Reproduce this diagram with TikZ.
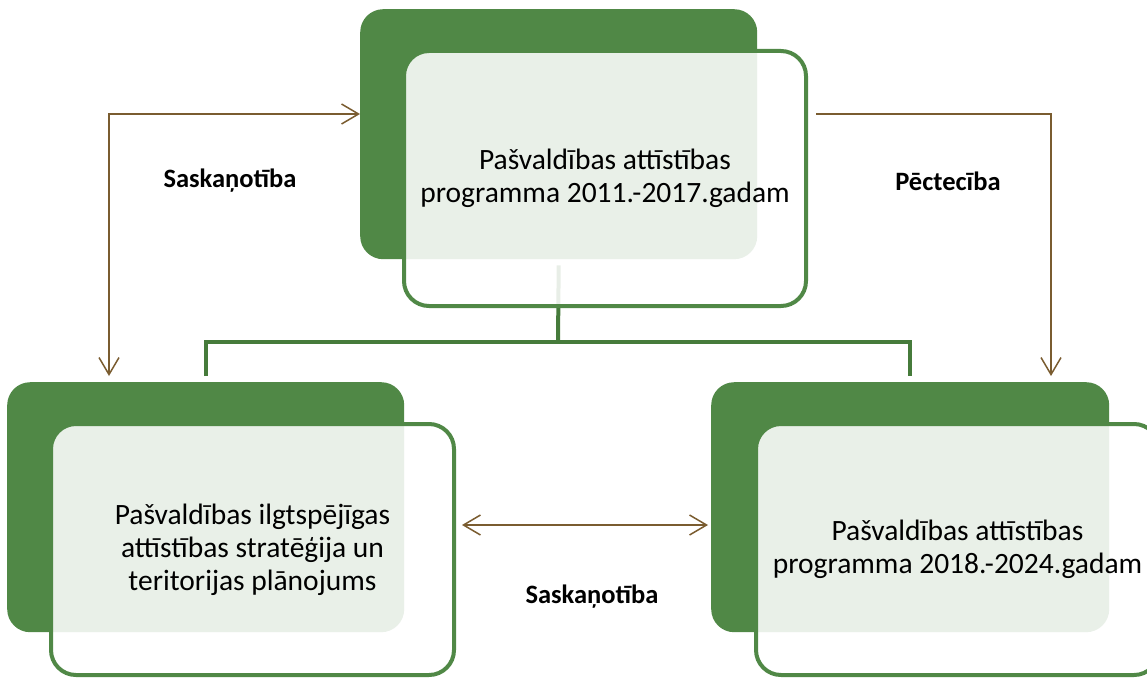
\documentclass[tikz,border=0pt]{standalone}
\usepackage{fontspec}
\setmainfont{Carlito}
\usetikzlibrary{arrows.meta}
\definecolor{dkgreen}{HTML}{508846}
\definecolor{treegreen}{HTML}{467B3B}
\definecolor{brownarr}{HTML}{7A5C30}
\tikzset{
  darkbox/.style={fill=dkgreen, rounded corners=23pt, inner sep=0pt, anchor=north west},
  outbox/.style={draw=dkgreen, line width=4pt, fill=white, fill opacity=0.88, text opacity=1,
    rounded corners=25pt, inner sep=0pt, anchor=north west},
  boxtext/.style={align=center, font=\fontsize{29.5}{33}\selectfont},
  tree/.style={draw=treegreen, line width=4pt},
  brarr/.style={draw=brownarr, line width=1.5pt},
  barb/.tip={Straight Barb[length=17pt,width=20pt,line width=1.5pt]},
  lbl/.style={font=\fontsize{26.5}{30}\selectfont\bfseries}
}
\begin{document}
\begin{tikzpicture}[x=1pt,y=-1pt]
\useasboundingbox (0,0) rectangle (1147,677);
\clip (0,0) rectangle (1147,677);
% dark boxes
\node[darkbox, minimum width=397pt, minimum height=250pt] (d1) at (360,9) {};
\node[darkbox, minimum width=397pt, minimum height=250pt] (d2) at (7,382) {};
\node[darkbox, minimum width=398pt, minimum height=250pt] (d3) at (711,382) {};
% tree connector
\path ([yshift=-6pt]d1.south) coordinate (t0);
\path ([yshift=6pt]d2.north) coordinate (t2);
\path ([yshift=6pt]d3.north) coordinate (t3);
\coordinate (hb) at (558,342);
\draw[tree] (t0) -- (hb);
\draw[tree] (t2) |- (hb) -| (t3);
% outline boxes
\node[outbox, minimum width=402pt, minimum height=255pt] (o1) at (402,49) {};
\node[outbox, minimum width=403pt, minimum height=251pt] (o2) at (49,422) {};
\node[outbox, minimum width=403pt, minimum height=251pt] (o3) at (754,422) {};
% texts
\node[boxtext] (x1) at (o1.center) {Pašvaldības attīstības\\programma 2011.-2017.gadam};
\node[boxtext] (x2) at (o2.center) {Pašvaldības ilgtspējīgas\\attīstības stratēģija un\\teritorijas plānojums};
\node[boxtext] (x3) at (o3.center) {Pašvaldības attīstības\\programma 2018.-2024.gadam};
% brown arrows
\coordinate (c1) at (109,114);
\coordinate (c2) at (1051,114);
\draw[brarr, barb-barb] (t2 -| c1) -- (c1) -- (c1 -| d1.west);
\coordinate (r0) at (816,114);
\draw[brarr, -barb] (r0) -- (c2) -- (t3 -| c2);
\coordinate (m1) at (462,525);
\coordinate (m2) at (708,525);
\draw[brarr, barb-barb] (m1) -- (m2);
% labels
\node[lbl] (l1) at (230,181) {Saskaņotība};
\node[lbl] (l2) at (948,181) {Pēctecība};
\node[lbl] (l3) at (592,597) {Saskaņotība};
\end{tikzpicture}
\end{document}
